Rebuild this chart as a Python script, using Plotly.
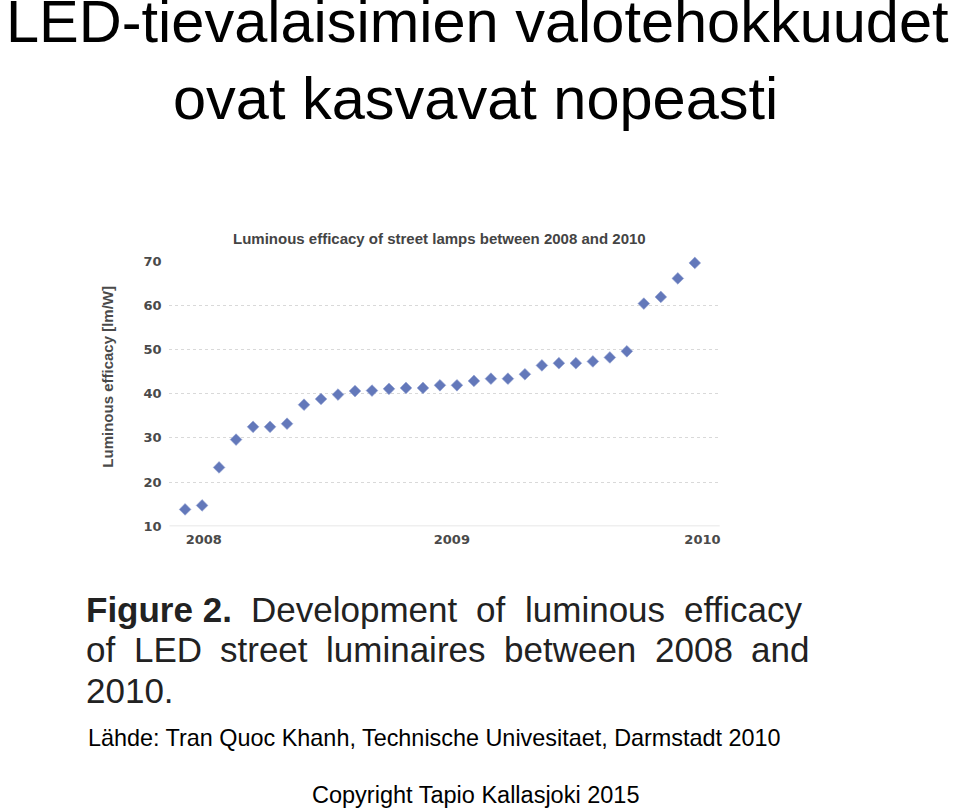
import plotly.graph_objects as go

# ---- data ----
periods = list(range(1, 32))
efficacy = [13.8, 14.7, 23.3, 29.6, 32.5, 32.5, 33.2, 37.5, 38.8, 39.8, 40.6,
            40.7, 41.1, 41.3, 41.3, 41.9, 41.9, 42.9, 43.4, 43.4, 44.4, 46.4,
            46.9, 46.9, 47.3, 48.2, 49.6, 60.4, 61.9, 66.1, 69.6]
year_labels = ["2008", "2009", "2010"]
year_positions = [2.1, 16.7, 31.45]
y_ticks = [10, 20, 30, 40, 50, 60, 70]

# caption, justified word by word as in the reference
caption_lines = [
    ["<b>Figure 2.</b>", "Development", "of", "luminous", "efficacy"],
    ["of", "LED", "street", "luminaires", "between", "2008", "and"],
    ["2010."],
]
# left edges of the words (layout)
caption_word_x = [
    [84, 249.5, 475.5, 524.5, 684.5],
    [84, 132, 219, 325.5, 504, 655, 751.5],
    [84],
]
caption_line_y = [614, 655, 696]

W, H = 960, 808


def px(x):
    return x / W


def py(y):
    return 1 - y / H


TICK_FONT = dict(family="DejaVu Sans", size=13, color="#4a4a4a", weight="bold")

fig = go.Figure()
fig.add_trace(go.Scatter(
    x=periods, y=efficacy, mode="markers",
    marker=dict(symbol="diamond", size=9, color="#6378ba",
                line=dict(width=0.6, color="#90a0d2")),
    cliponaxis=False, showlegend=False, hoverinfo="y"))

fig.update_layout(
    width=W, height=H,
    margin=dict(l=0, r=0, t=0, b=0),
    paper_bgcolor="white", plot_bgcolor="white",
    xaxis=dict(domain=[px(170), px(720)], range=[0.08, 32.35],
               tickvals=year_positions, ticktext=year_labels,
               showgrid=False, zeroline=False, showline=False, ticks="",
               ticklabelstandoff=4, tickfont=TICK_FONT),
    yaxis=dict(domain=[py(529), py(259)], range=[10, 70],
               tickvals=y_ticks, showgrid=True, gridcolor="#d9d9d9",
               griddash="dot", gridwidth=1, zeroline=False, showline=False,
               ticks="", ticklabelstandoff=7, tickfont=TICK_FONT),
)

# bottom axis line (solid, light)
fig.add_shape(type="line", xref="paper", yref="y", x0=px(170), x1=px(722),
              y0=10, y1=10, line=dict(color="#cfcfcf", width=1))

ann = []
# slide title
ann.append(dict(text="LED-tievalaisimien valotehokkuudet", x=px(479), y=py(15),
                font=dict(family="Liberation Sans, Arial", size=59.5, color="black")))
ann.append(dict(text="ovat kasvavat nopeasti", x=px(477), y=py(93),
                font=dict(family="Liberation Sans, Arial", size=59.5, color="black")))
# chart title
ann.append(dict(text="Luminous efficacy of street lamps between 2008 and 2010",
                x=px(441), y=py(236),
                font=dict(family="Liberation Sans, Arial", size=15,
                          color="#444444", weight="bold")))
# y-axis title
ann.append(dict(text="Luminous efficacy [lm/W]", x=px(107), y=py(377),
                textangle=-90,
                font=dict(family="Liberation Sans, Arial", size=15,
                          color="#4a4a4a", weight="bold")))
# caption
cap_font = dict(family="Liberation Sans, Arial", size=35, color="#222222")
for words, xs, yline in zip(caption_lines, caption_word_x, caption_line_y):
    for w, xw in zip(words, xs):
        ann.append(dict(text=w, x=px(xw), y=py(yline), xanchor="left",
                        font=cap_font))
# source & copyright
ann.append(dict(text="Lähde: Tran Quoc Khanh, Technische Univesitaet, Darmstadt 2010",
                x=px(436), y=py(745),
                font=dict(family="Liberation Sans, Arial", size=23.4, color="black")))
ann.append(dict(text="Copyright Tapio Kallasjoki 2015", x=px(477), y=py(803),
                font=dict(family="Liberation Sans, Arial", size=23.5, color="black")))

for a in ann:
    a.setdefault("xanchor", "center")
    a.update(xref="paper", yref="paper", yanchor="middle", showarrow=False)
    fig.add_annotation(**a)

fig.write_html("out.html")
